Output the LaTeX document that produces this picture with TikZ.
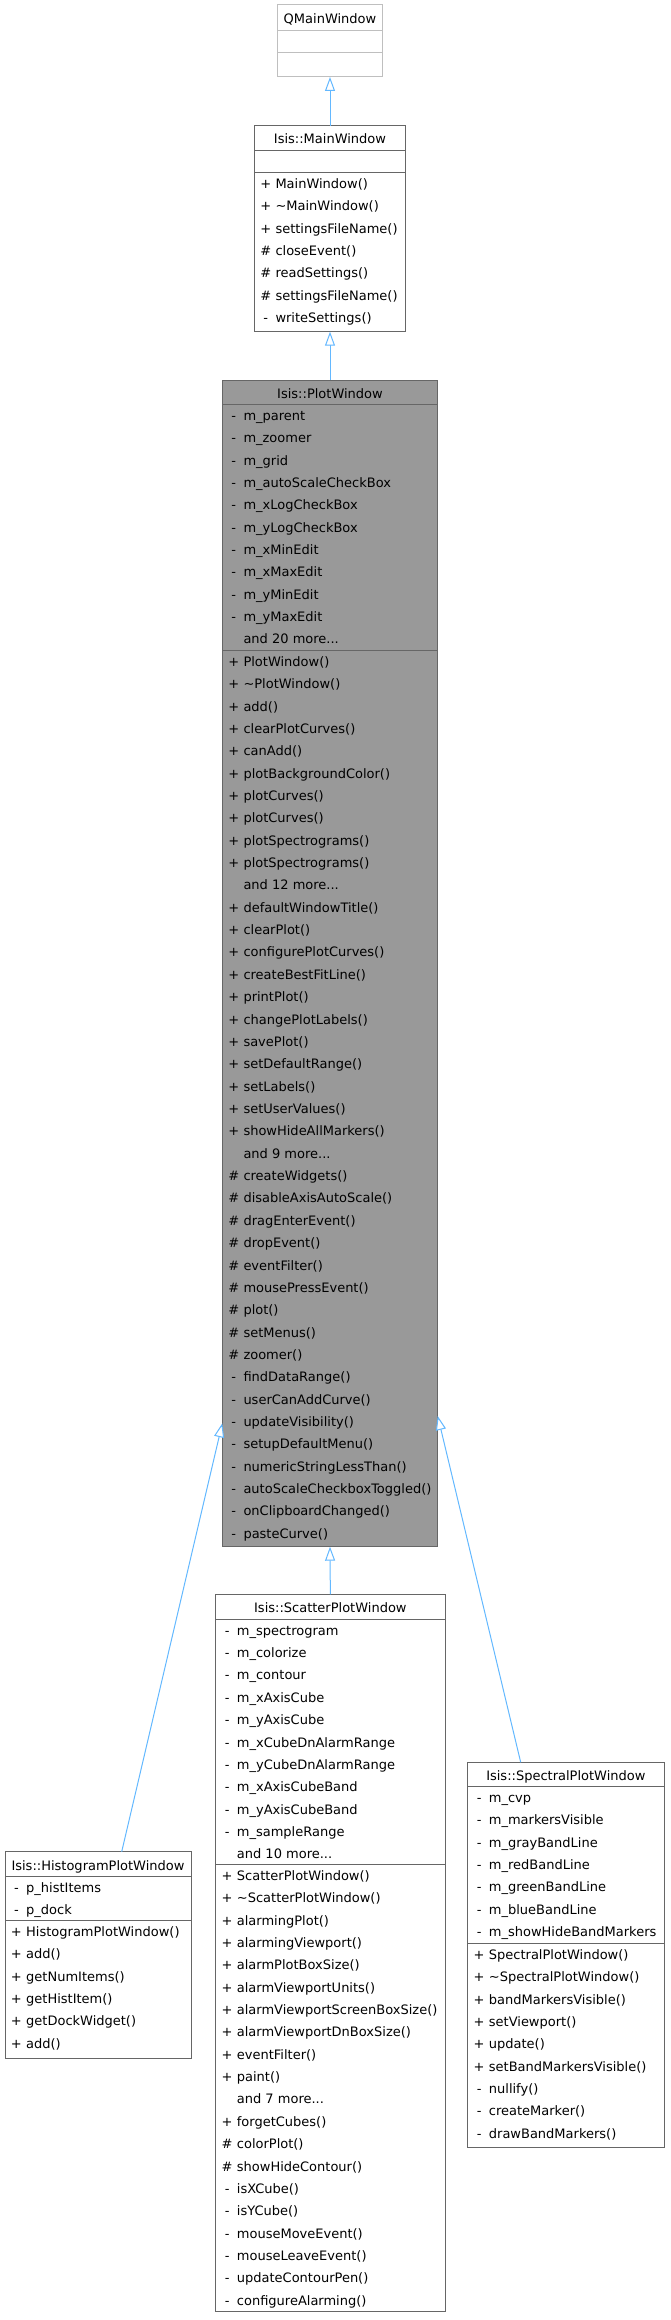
\documentclass[tikz,border=0pt]{standalone}
\usepackage{fontspec}
\setmainfont{DejaVu Sans}
\usetikzlibrary{calc,arrows.meta}
\definecolor{clsborder}{HTML}{666666}
\definecolor{extborder}{HTML}{BFBFBF}
\definecolor{plotfill}{HTML}{999999}
\definecolor{edgeblue}{HTML}{63B8FF}
\newcommand\andmore[1]{and #1 more...}
\newcommand\umlbox[7][]{%
  \node[umlcls, #1, minimum width=#5, minimum height=#6] (#2) at (#3,#4) {};
  \node[umltitle] (#2-title) at ($(#2.north)+(0,18.3)$) {#7};
}
\newcommand\umlpart[3]{%
  \draw[umlsep] ($(#1.north west)+(0,#2)$) -- ($(#1.north east)+(0,#2)$);
  \foreach \p/\t [count=\i] in {#3} {
    \node[umlsym] at ($(#1.north west)+(11.4,#2+15.6+22.36*\i-22.36)$) {\p};
    \node[umlrow] at ($(#1.north west)+(21,#2+15.6+22.36*\i-22.36)$) {\t};
  }
}
\begin{document}
\begin{tikzpicture}[x=1pt,y=-1pt,
  font=\fontsize{13}{15}\selectfont,
  umlcls/.style={draw=clsborder, fill=white, line width=1pt, rectangle,
    anchor=north west, inner sep=0pt, outer sep=0pt},
  umltitle/.style={anchor=base, inner sep=0pt},
  umlsym/.style={anchor=base, inner sep=0pt},
  umlrow/.style={anchor=base west, inner sep=0pt},
  umlsep/.style={draw=clsborder, line width=1pt},
  inherit/.style={draw=edgeblue, line width=1pt,
    -{Triangle[open, fill=white, length=14pt, width=10pt]}}]
\useasboundingbox (0,0) rectangle (670,2320);

\umlbox[draw=extborder]{qmain}{277.7}{5}{104.6}{72}{QMainWindow}
\draw[umlsep, draw=extborder] ($(qmain.north west)+(0,25.3)$) -- ($(qmain.north east)+(0,25.3)$);
\draw[umlsep, draw=extborder] ($(qmain.north west)+(0,47.3)$) -- ($(qmain.north east)+(0,47.3)$);

\umlbox{mainwin}{254.3}{125.7}{151.4}{206}{Isis::MainWindow}
\umlpart{mainwin}{24.6}{}
\umlpart{mainwin}{47}{+/MainWindow(), +/\textasciitilde MainWindow(), +/settingsFileName(),
  \#/closeEvent(), \#/readSettings(), \#/settingsFileName(), -/writeSettings()}

\umlbox[fill=plotfill]{plot}{222.3}{380}{215.4}{1166.7}{Isis::PlotWindow}
\umlpart{plot}{24.7}{-/m\_parent, -/m\_zoomer, -/m\_grid, -/m\_autoScaleCheckBox,
  -/m\_xLogCheckBox, -/m\_yLogCheckBox, -/m\_xMinEdit, -/m\_xMaxEdit, -/m\_yMinEdit,
  -/m\_yMaxEdit, /\andmore{20}}
\umlpart{plot}{270.7}{+/PlotWindow(), +/\textasciitilde PlotWindow(), +/add(), +/clearPlotCurves(),
  +/canAdd(), +/plotBackgroundColor(), +/plotCurves(), +/plotCurves(), +/plotSpectrograms(),
  +/plotSpectrograms(), /\andmore{12}, +/defaultWindowTitle(), +/clearPlot(),
  +/configurePlotCurves(), +/createBestFitLine(), +/printPlot(), +/changePlotLabels(),
  +/savePlot(), +/setDefaultRange(), +/setLabels(), +/setUserValues(), +/showHideAllMarkers(),
  /\andmore{9}, \#/createWidgets(), \#/disableAxisAutoScale(), \#/dragEnterEvent(),
  \#/dropEvent(), \#/eventFilter(), \#/mousePressEvent(), \#/plot(), \#/setMenus(),
  \#/zoomer(), -/findDataRange(), -/userCanAddCurve(), -/updateVisibility(),
  -/setupDefaultMenu(), -/numericStringLessThan(), -/autoScaleCheckboxToggled(),
  -/onClipboardChanged(), -/pasteCurve()}

\umlbox{histo}{5}{1851.7}{186}{206.6}{Isis::HistogramPlotWindow}
\umlpart{histo}{25}{-/p\_histItems, -/p\_dock}
\umlpart{histo}{69}{+/HistogramPlotWindow(), +/add(), +/getNumItems(), +/getHistItem(),
  +/getDockWidget(), +/add()}

\umlbox{scatter}{215.7}{1594.3}{229.3}{717.4}{Isis::ScatterPlotWindow}
\umlpart{scatter}{25.3}{-/m\_spectrogram, -/m\_colorize, -/m\_contour, -/m\_xAxisCube,
  -/m\_yAxisCube, -/m\_xCubeDnAlarmRange, -/m\_yCubeDnAlarmRange, -/m\_xAxisCubeBand,
  -/m\_yAxisCubeBand, -/m\_sampleRange, /\andmore{10}}
\umlpart{scatter}{270.4}{+/ScatterPlotWindow(), +/\textasciitilde ScatterPlotWindow(),
  +/alarmingPlot(), +/alarmingViewport(), +/alarmPlotBoxSize(), +/alarmViewportUnits(),
  +/alarmViewportScreenBoxSize(), +/alarmViewportDnBoxSize(), +/eventFilter(), +/paint(),
  /\andmore{7}, +/forgetCubes(), \#/colorPlot(), \#/showHideContour(), -/isXCube(),
  -/isYCube(), -/mouseMoveEvent(), -/mouseLeaveEvent(), -/updateContourPen(),
  -/configureAlarming()}

\umlbox{spectral}{467.7}{1762.3}{196.3}{385}{Isis::SpectralPlotWindow}
\umlpart{spectral}{24.4}{-/m\_cvp, -/m\_markersVisible, -/m\_grayBandLine, -/m\_redBandLine,
  -/m\_greenBandLine, -/m\_blueBandLine, -/m\_showHideBandMarkers}
\umlpart{spectral}{181.4}{+/SpectralPlotWindow(), +/\textasciitilde SpectralPlotWindow(),
  +/bandMarkersVisible(), +/setViewport(), +/update(), +/setBandMarkersVisible(),
  -/nullify(), -/createMarker(), -/drawBandMarkers()}

\coordinate (histo-top) at ($(histo.north west)+(116.7,0)$);
\coordinate (plot-l) at ($(plot.north west)+(0,1043.3)$);
\coordinate (spectral-top) at ($(spectral.north west)+(53,0)$);
\coordinate (plot-r) at ($(plot.north east)+(0,1036)$);

\draw[inherit] (mainwin.north) -- (qmain.south);
\draw[inherit] (plot.north) -- (mainwin.south);
\draw[inherit] (scatter.north) -- (plot.south);
\draw[inherit] (histo-top) -- (plot-l);
\draw[inherit] (spectral-top) -- (plot-r);
\end{tikzpicture}
\end{document}
